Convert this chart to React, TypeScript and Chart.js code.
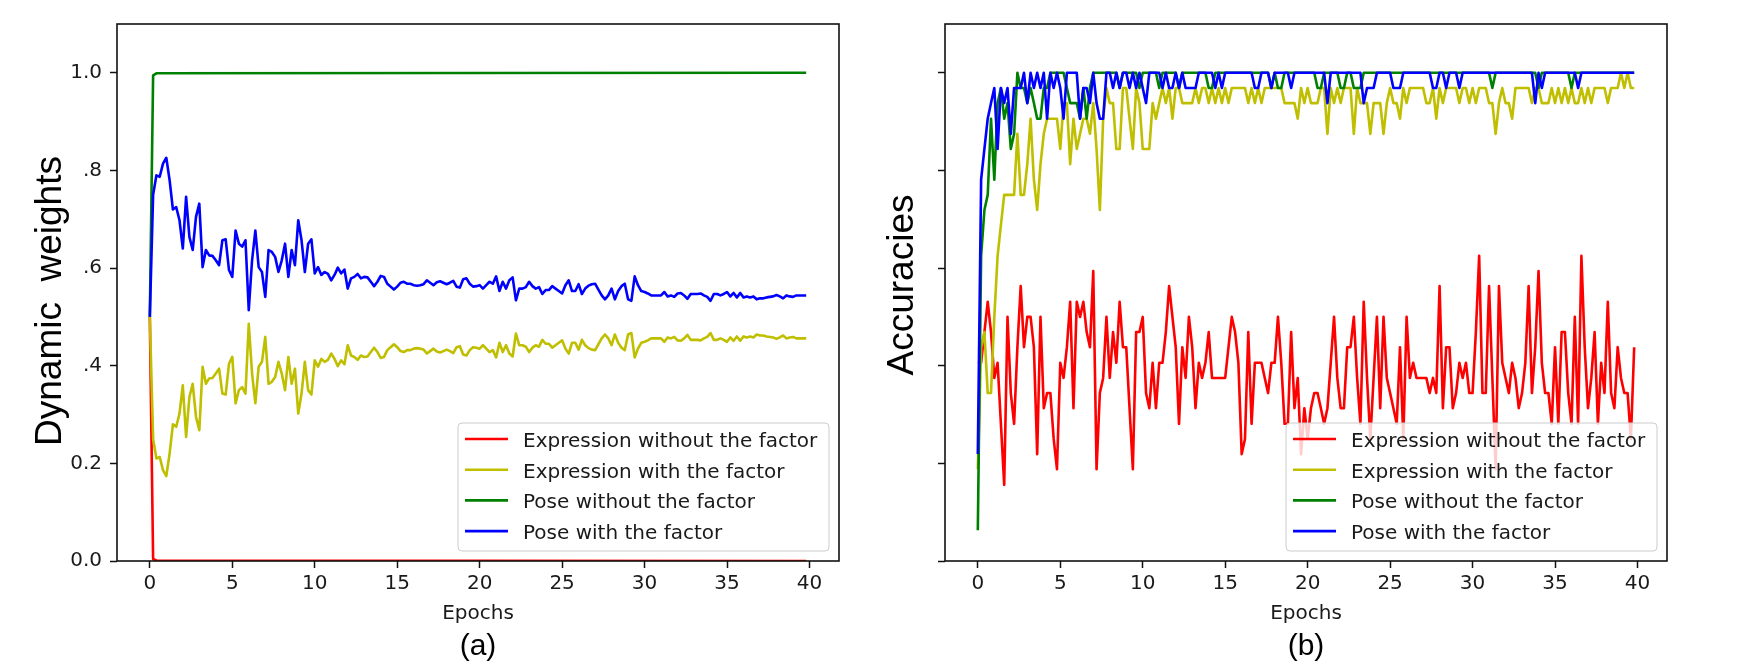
import React, { useEffect, useRef } from "react";
import { Chart, registerables } from "chart.js";

Chart.register(...registerables);

// ---------------- data ----------------
const EPOCHS = [
  0, 0.2, 0.4, 0.6, 0.8, 1, 1.2, 1.4, 1.6, 1.8,
  2, 2.2, 2.4, 2.6, 2.8, 3, 3.2, 3.4, 3.6, 3.8,
  4, 4.2, 4.4, 4.6, 4.8, 5, 5.2, 5.4, 5.6, 5.8,
  6, 6.2, 6.4, 6.6, 6.8, 7, 7.2, 7.4, 7.6, 7.8,
  8, 8.2, 8.4, 8.6, 8.8, 9, 9.2, 9.4, 9.6, 9.8,
  10, 10.2, 10.4, 10.6, 10.8, 11, 11.2, 11.4, 11.6, 11.8,
  12, 12.2, 12.4, 12.6, 12.8, 13, 13.2, 13.4, 13.6, 13.8,
  14, 14.2, 14.4, 14.6, 14.8, 15, 15.2, 15.4, 15.6, 15.8,
  16, 16.2, 16.4, 16.6, 16.8, 17, 17.2, 17.4, 17.6, 17.8,
  18, 18.2, 18.4, 18.6, 18.8, 19, 19.2, 19.4, 19.6, 19.8,
  20, 20.2, 20.4, 20.6, 20.8, 21, 21.2, 21.4, 21.6, 21.8,
  22, 22.2, 22.4, 22.6, 22.8, 23, 23.2, 23.4, 23.6, 23.8,
  24, 24.2, 24.4, 24.6, 24.8, 25, 25.2, 25.4, 25.6, 25.8,
  26, 26.2, 26.4, 26.6, 26.8, 27, 27.2, 27.4, 27.6, 27.8,
  28, 28.2, 28.4, 28.6, 28.8, 29, 29.2, 29.4, 29.6, 29.8,
  30, 30.2, 30.4, 30.6, 30.8, 31, 31.2, 31.4, 31.6, 31.8,
  32, 32.2, 32.4, 32.6, 32.8, 33, 33.2, 33.4, 33.6, 33.8,
  34, 34.2, 34.4, 34.6, 34.8, 35, 35.2, 35.4, 35.6, 35.8,
  36, 36.2, 36.4, 36.6, 36.8, 37, 37.2, 37.4, 37.6, 37.8,
  38, 38.2, 38.4, 38.6, 38.8, 39, 39.2, 39.4, 39.6, 39.8,
];

const SERIES_NAMES = [
  "Expression without the factor",
  "Expression with the factor",
  "Pose without the factor",
  "Pose with the factor",
];

const X_TICKS = [0, 5, 10, 15, 20, 25, 30, 35, 40];
const Y_TICKS = [0, 0.2, 0.4, 0.6, 0.8, 1.0];
const Y_TICK_LABELS_A = ["0.0", "0.2", ".4", ".6", ".8", "1.0"];
const Y_TICK_LABELS_B = ["", "", "", "", "", ""];

// (a) Dynamic weights
const WEIGHT_EXPR_WITHOUT = [
  { x: 0, y: 0.5 }, { x: 0.2, y: 0.004 }, { x: 0.4, y: 0.001 }, { x: 39.8, y: 0 },
];
const WEIGHT_POSE_WITHOUT = [
  { x: 0, y: 0.5 }, { x: 0.2, y: 0.995 }, { x: 0.4, y: 0.999 }, { x: 39.8, y: 1 },
];
const WEIGHT_EXPR_WITH = [
  0.5, 0.25, 0.21, 0.213, 0.186, 0.174, 0.22, 0.28, 0.275, 0.302,
  0.36, 0.254, 0.336, 0.363, 0.295, 0.268, 0.398, 0.363, 0.374, 0.375,
  0.384, 0.394, 0.343, 0.341, 0.404, 0.418, 0.323, 0.35, 0.356, 0.343,
  0.486, 0.384, 0.323, 0.398, 0.408, 0.459, 0.363, 0.367, 0.377, 0.408,
  0.384, 0.35, 0.418, 0.363, 0.394, 0.302, 0.343, 0.408, 0.35, 0.341,
  0.411, 0.398, 0.414, 0.408, 0.412, 0.425, 0.414, 0.399, 0.411, 0.403,
  0.442, 0.421, 0.418, 0.412, 0.421, 0.418, 0.419, 0.428, 0.437, 0.428,
  0.416, 0.418, 0.432, 0.438, 0.444, 0.438, 0.43, 0.428, 0.432, 0.432,
  0.435, 0.436, 0.435, 0.433, 0.425, 0.43, 0.435, 0.429, 0.427, 0.43,
  0.433, 0.43, 0.426, 0.438, 0.44, 0.423, 0.421, 0.432, 0.438, 0.437,
  0.435, 0.442, 0.435, 0.428, 0.432, 0.417, 0.447, 0.428, 0.442, 0.425,
  0.419, 0.466, 0.442, 0.442, 0.439, 0.428, 0.437, 0.442, 0.439, 0.453,
  0.445, 0.445, 0.437, 0.442, 0.447, 0.452, 0.435, 0.425, 0.447, 0.447,
  0.433, 0.453, 0.442, 0.436, 0.433, 0.432, 0.444, 0.456, 0.464, 0.456,
  0.442, 0.464, 0.447, 0.437, 0.432, 0.464, 0.467, 0.417, 0.435, 0.447,
  0.449, 0.452, 0.456, 0.456, 0.456, 0.456, 0.449, 0.458, 0.456, 0.459,
  0.452, 0.451, 0.456, 0.463, 0.453, 0.453, 0.453, 0.452, 0.456, 0.459,
  0.467, 0.453, 0.453, 0.456, 0.453, 0.449, 0.458, 0.451, 0.46, 0.451,
  0.46, 0.458, 0.46, 0.458, 0.464, 0.462, 0.462, 0.46, 0.459, 0.458,
  0.455, 0.458, 0.462, 0.456, 0.458, 0.459, 0.456, 0.456, 0.456, 0.456,
];
const WEIGHT_POSE_WITH = [
  0.5, 0.75, 0.79, 0.787, 0.814, 0.826, 0.78, 0.72, 0.725, 0.698,
  0.64, 0.746, 0.664, 0.637, 0.705, 0.732, 0.602, 0.637, 0.626, 0.625,
  0.616, 0.606, 0.657, 0.659, 0.596, 0.582, 0.677, 0.65, 0.644, 0.657,
  0.514, 0.616, 0.677, 0.602, 0.592, 0.541, 0.637, 0.633, 0.623, 0.592,
  0.616, 0.65, 0.582, 0.637, 0.606, 0.698, 0.657, 0.592, 0.65, 0.659,
  0.589, 0.602, 0.586, 0.592, 0.588, 0.575, 0.586, 0.601, 0.589, 0.597,
  0.558, 0.579, 0.582, 0.588, 0.579, 0.582, 0.581, 0.572, 0.563, 0.572,
  0.584, 0.582, 0.568, 0.562, 0.556, 0.562, 0.57, 0.572, 0.568, 0.568,
  0.565, 0.564, 0.565, 0.567, 0.575, 0.57, 0.565, 0.571, 0.573, 0.57,
  0.567, 0.57, 0.574, 0.562, 0.56, 0.577, 0.579, 0.568, 0.562, 0.563,
  0.565, 0.558, 0.565, 0.572, 0.568, 0.583, 0.553, 0.572, 0.558, 0.575,
  0.581, 0.534, 0.558, 0.558, 0.561, 0.572, 0.563, 0.558, 0.561, 0.547,
  0.555, 0.555, 0.563, 0.558, 0.553, 0.548, 0.565, 0.575, 0.553, 0.553,
  0.567, 0.547, 0.558, 0.564, 0.567, 0.568, 0.556, 0.544, 0.536, 0.544,
  0.558, 0.536, 0.553, 0.563, 0.568, 0.536, 0.533, 0.583, 0.565, 0.553,
  0.551, 0.548, 0.544, 0.544, 0.544, 0.544, 0.551, 0.542, 0.544, 0.541,
  0.548, 0.549, 0.544, 0.537, 0.547, 0.547, 0.547, 0.548, 0.544, 0.541,
  0.533, 0.547, 0.547, 0.544, 0.547, 0.551, 0.542, 0.549, 0.54, 0.549,
  0.54, 0.542, 0.54, 0.542, 0.536, 0.538, 0.538, 0.54, 0.541, 0.542,
  0.545, 0.542, 0.538, 0.544, 0.542, 0.541, 0.544, 0.544, 0.544, 0.544,
];

// (b) Accuracies
const ACC_EXPR_WITHOUT = [
  0.406, 0.406, 0.469, 0.531, 0.469, 0.375, 0.406, 0.281, 0.156, 0.5,
  0.344, 0.281, 0.438, 0.563, 0.438, 0.5, 0.5, 0.438, 0.219, 0.5,
  0.313, 0.344, 0.344, 0.25, 0.188, 0.406, 0.375, 0.438, 0.531, 0.313,
  0.531, 0.5, 0.531, 0.469, 0.438, 0.594, 0.188, 0.344, 0.375, 0.5,
  0.375, 0.469, 0.406, 0.531, 0.438, 0.438, 0.313, 0.188, 0.469, 0.469,
  0.5, 0.344, 0.313, 0.406, 0.313, 0.406, 0.406, 0.469, 0.563, 0.5,
  0.438, 0.281, 0.438, 0.375, 0.5, 0.438, 0.313, 0.406, 0.375, 0.406,
  0.469, 0.375, 0.375, 0.375, 0.375, 0.375, 0.438, 0.5, 0.469, 0.406,
  0.219, 0.25, 0.469, 0.281, 0.406, 0.406, 0.406, 0.375, 0.344, 0.406,
  0.406, 0.5, 0.406, 0.281, 0.281, 0.469, 0.313, 0.375, 0.219, 0.313,
  0.25, 0.313, 0.344, 0.344, 0.313, 0.281, 0.313, 0.406, 0.5, 0.375,
  0.313, 0.313, 0.438, 0.438, 0.5, 0.375, 0.281, 0.531, 0.375, 0.25,
  0.375, 0.5, 0.313, 0.5, 0.375, 0.344, 0.313, 0.281, 0.438, 0.25,
  0.5, 0.375, 0.406, 0.375, 0.375, 0.375, 0.375, 0.344, 0.375, 0.344,
  0.563, 0.313, 0.438, 0.438, 0.313, 0.344, 0.406, 0.375, 0.406, 0.344,
  0.344, 0.469, 0.625, 0.344, 0.344, 0.563, 0.375, 0.188, 0.563, 0.406,
  0.375, 0.344, 0.406, 0.375, 0.313, 0.344, 0.406, 0.563, 0.344, 0.438,
  0.594, 0.406, 0.344, 0.344, 0.281, 0.438, 0.281, 0.469, 0.469, 0.344,
  0.281, 0.5, 0.281, 0.625, 0.438, 0.313, 0.375, 0.469, 0.281, 0.406,
  0.344, 0.531, 0.344, 0.313, 0.438, 0.375, 0.344, 0.344, 0.25, 0.438,
];
const ACC_EXPR_WITH = [
  0.188, 0.438, 0.469, 0.344, 0.344, 0.5, 0.625, 0.688, 0.75, 0.75,
  0.75, 0.75, 0.875, 0.75, 0.75, 0.813, 0.906, 0.781, 0.719, 0.813,
  0.875, 0.906, 0.906, 0.906, 0.906, 0.844, 0.938, 0.938, 0.813, 0.906,
  0.844, 0.875, 0.906, 0.906, 0.875, 0.938, 0.844, 0.719, 0.906, 0.969,
  0.938, 0.938, 0.844, 0.844, 0.969, 0.969, 0.906, 0.844, 0.969, 0.938,
  0.844, 0.844, 0.844, 0.938, 0.906, 0.938, 0.969, 0.938, 0.969, 0.906,
  0.969, 0.969, 0.938, 0.938, 0.938, 0.938, 0.969, 0.938, 0.969, 0.969,
  0.938, 0.969, 0.938, 0.969, 0.938, 0.969, 0.938, 0.969, 0.969, 0.969,
  0.969, 0.969, 0.938, 0.969, 0.938, 0.969, 0.938, 0.969, 0.969, 0.969,
  0.969, 0.969, 0.969, 0.938, 0.938, 0.938, 0.938, 0.906, 0.969, 0.938,
  0.969, 0.938, 0.938, 0.938, 0.969, 0.969, 0.875, 0.969, 0.938, 0.969,
  0.938, 0.969, 0.969, 0.969, 0.875, 0.969, 0.938, 0.938, 0.938, 0.875,
  0.938, 0.938, 0.938, 0.875, 0.938, 0.969, 0.938, 0.938, 0.906, 0.969,
  0.938, 0.969, 0.969, 0.969, 0.969, 0.969, 0.938, 0.938, 0.969, 0.906,
  0.969, 0.938, 0.969, 0.969, 0.969, 0.969, 0.938, 0.969, 0.969, 0.938,
  0.969, 0.938, 0.969, 0.969, 0.969, 0.938, 0.938, 0.875, 0.938, 0.969,
  0.938, 0.938, 0.906, 0.969, 0.969, 0.969, 0.969, 0.969, 0.938, 0.969,
  0.969, 0.938, 0.938, 0.938, 0.969, 0.938, 0.969, 0.938, 0.969, 0.938,
  0.969, 0.938, 0.938, 0.969, 0.938, 0.969, 0.938, 0.969, 0.969, 0.969,
  0.969, 0.938, 0.969, 0.969, 0.969, 1, 0.969, 1, 0.969, 0.969,
];
const ACC_POSE_WITHOUT = [
  0.063, 0.625, 0.719, 0.75, 0.906, 0.781, 0.938, 0.969, 0.906, 0.938,
  0.844, 0.875, 1, 0.969, 0.969, 0.938, 0.969, 0.938, 0.906, 0.906,
  0.969, 0.969, 1, 1, 1, 1, 1, 0.969, 0.938, 0.938,
  0.938, 0.906, 0.969, 0.906, 0.969, 1, 1, 1, 1, 1,
  1, 1, 1, 0.969, 1, 1, 1, 1, 1, 0.969,
  1, 1, 1, 1, 1, 0.969, 1, 1, 1, 1,
  1, 0.969, 1, 1, 1, 1, 1, 1, 1, 1,
  0.969, 0.969, 1, 1, 1, 1, 1, 1, 1, 1,
  1, 1, 1, 1, 1, 1, 1, 1, 1, 0.969,
  1, 0.969, 0.969, 1, 1, 1, 1, 1, 1, 1,
  1, 1, 1, 0.969, 0.969, 1, 1, 1, 1, 1,
  0.969, 0.969, 1, 1, 0.969, 0.969, 0.969, 1, 1, 1,
  1, 1, 1, 1, 1, 1, 1, 1, 1, 1,
  1, 1, 1, 1, 1, 1, 1, 1, 1, 1,
  1, 1, 1, 1, 1, 1, 1, 1, 1, 1,
  1, 1, 1, 1, 1, 1, 0.969, 1, 1, 1,
  1, 1, 1, 1, 1, 1, 1, 1, 1, 1,
  0.969, 1, 1, 1, 1, 1, 1, 1, 1, 1,
  0.969, 1, 1, 1, 1, 1, 1, 1, 1, 1,
  1, 1, 1, 1, 1, 1, 1, 1, 1, 1,
];
const ACC_POSE_WITH = [
  0.219, 0.781, 0.844, 0.906, 0.938, 0.969, 0.844, 0.969, 0.938, 0.969,
  0.875, 0.969, 0.969, 0.969, 1, 0.938, 1, 0.969, 1, 0.969,
  1, 0.906, 1, 0.969, 1, 0.969, 0.906, 1, 1, 1,
  1, 0.906, 0.969, 0.969, 0.938, 1, 0.938, 0.906, 0.906, 1,
  1, 0.969, 1, 0.969, 1, 1, 0.969, 1, 0.969, 1,
  0.969, 0.938, 1, 1, 1, 1, 0.969, 1, 0.969, 0.969,
  1, 0.969, 1, 0.969, 0.969, 0.969, 0.969, 1, 1, 1,
  1, 1, 0.969, 1, 0.969, 1, 1, 1, 1, 1,
  1, 1, 1, 1, 0.969, 0.969, 1, 1, 1, 0.969,
  1, 1, 1, 1, 1, 0.969, 1, 1, 1, 1,
  1, 1, 1, 1, 1, 1, 0.938, 1, 1, 1,
  1, 1, 1, 1, 1, 1, 1, 0.938, 0.969, 0.969,
  0.969, 1, 1, 1, 1, 1, 0.969, 0.969, 0.969, 1,
  1, 1, 1, 1, 1, 1, 1, 1, 0.969, 0.969,
  1, 1, 0.969, 1, 1, 1, 0.969, 1, 1, 1,
  1, 1, 1, 1, 1, 1, 1, 1, 1, 1,
  1, 1, 1, 1, 1, 1, 1, 1, 1, 0.938,
  1, 0.969, 1, 1, 1, 1, 1, 1, 1, 1,
  1, 1, 0.969, 1, 1, 1, 1, 1, 1, 1,
  1, 1, 1, 1, 1, 1, 1, 1, 1, 1,
];

// ---------------- styling ----------------
const COLORS = ["#ff0000", "#bfbf00", "#008000", "#0000ff"];
const TICK_FONT = { family: "DejaVu Sans", size: 20 };
const W = 1762;
const H = 672;

type PanelStyle = {
  ylabel: string;
  ylabelX: number;
  ylabelY: number;
  panel: string;
};

function roundRectPath(ctx: CanvasRenderingContext2D, x: number, y: number, w: number, h: number, r: number) {
  ctx.beginPath();
  ctx.moveTo(x + r, y);
  ctx.lineTo(x + w - r, y);
  ctx.arcTo(x + w, y, x + w, y + r, r);
  ctx.lineTo(x + w, y + h - r);
  ctx.arcTo(x + w, y + h, x + w - r, y + h, r);
  ctx.lineTo(x + r, y + h);
  ctx.arcTo(x, y + h, x, y + h - r, r);
  ctx.lineTo(x, y + r);
  ctx.arcTo(x, y, x + r, y, r);
  ctx.closePath();
}

function decorPlugin(p: PanelStyle) {
  return {
    id: "decor",
    afterDraw(chart: any) {
      const { ctx, chartArea: a } = chart;
      ctx.save();
      // spines
      ctx.strokeStyle = "#111";
      ctx.lineWidth = 1.6;
      ctx.strokeRect(a.left, a.top, a.right - a.left, a.bottom - a.top);

      // legend (matplotlib style, lower right)
      const lw = 371;
      const lh = 128;
      const lx = a.right - 10 - lw;
      const ly = a.bottom - 10 - lh;
      roundRectPath(ctx, lx, ly, lw, lh, 4);
      ctx.fillStyle = "rgba(255,255,255,0.8)";
      ctx.fill();
      ctx.strokeStyle = "#cccccc";
      ctx.lineWidth = 1;
      ctx.stroke();
      ctx.font = '20px "DejaVu Sans"';
      ctx.textAlign = "left";
      ctx.textBaseline = "alphabetic";
      SERIES_NAMES.forEach((name, i) => {
        const y = ly + 16 + i * 30.7;
        ctx.strokeStyle = COLORS[i];
        ctx.lineWidth = 2.6;
        ctx.beginPath();
        ctx.moveTo(lx + 7, y);
        ctx.lineTo(lx + 50, y);
        ctx.stroke();
        ctx.fillStyle = "#1a1a1a";
        ctx.fillText(name, lx + 65, y + 8);
      });

      // x title
      const cx = (a.left + a.right) / 2;
      ctx.textAlign = "center";
      ctx.fillStyle = "#1a1a1a";
      ctx.fillText("Epochs", cx, 619);
      // panel label
      ctx.fillStyle = "#000";
      ctx.font = '30px "Liberation Sans"';
      ctx.fillText(p.panel, cx, 655);
      // y title
      ctx.save();
      ctx.translate(p.ylabelX, p.ylabelY);
      ctx.rotate(-Math.PI / 2);
      ctx.font = '37px "Liberation Sans"';
      ctx.textAlign = "center";
      ctx.fillText(p.ylabel, 0, 0);
      ctx.restore();
      ctx.restore();
    },
  };
}

function makeConfig(
  series: any[],
  yLabels: string[],
  yAxisWidth: number,
  padRight: number,
  style: PanelStyle
): any {
  const datasets = series.map((data, i) => ({
    label: SERIES_NAMES[i],
    data,
    borderColor: COLORS[i],
    backgroundColor: COLORS[i],
    borderWidth: 2.6,
    pointRadius: 0,
    tension: 0,
    fill: false,
    borderJoinStyle: "round",
    order: 4 - i,
  }));
  return {
    type: "line",
    data: { labels: EPOCHS, datasets },
    options: {
      animation: false,
      responsive: false,
      devicePixelRatio: 1,
      layout: { padding: { top: 24, right: padRight, left: 0, bottom: 0 } },
      plugins: { legend: { display: false }, tooltip: { enabled: false } },
      scales: {
        x: {
          type: "linear",
          min: -1.99,
          max: 41.79,
          afterBuildTicks: (s: any) => {
            s.ticks = X_TICKS.map((v) => ({ value: v }));
          },
          afterFit: (s: any) => {
            s.height = 111;
          },
          grid: {
            display: true,
            drawOnChartArea: false,
            drawTicks: true,
            tickLength: 7,
            tickWidth: 1.5,
            tickColor: "#111",
          },
          border: { display: false },
          ticks: {
            font: TICK_FONT,
            color: "#1a1a1a",
            padding: 4,
            maxRotation: 0,
            autoSkip: false,
            callback: (v: number) => String(v),
          },
        },
        y: {
          type: "linear",
          min: 0,
          max: 1.1,
          afterBuildTicks: (s: any) => {
            s.ticks = Y_TICKS.map((v) => ({ value: v }));
          },
          afterFit: (s: any) => {
            s.width = yAxisWidth;
          },
          grid: {
            display: true,
            drawOnChartArea: false,
            drawTicks: true,
            tickLength: 7,
            tickWidth: 1.5,
            tickColor: "#111",
          },
          border: { display: false },
          ticks: {
            font: TICK_FONT,
            color: "#1a1a1a",
            padding: 8,
            autoSkip: false,
            callback: (v: number) => {
              const idx = Y_TICKS.findIndex((t) => Math.abs(t - v) < 1e-6);
              return idx >= 0 ? yLabels[idx] : "";
            },
          },
        },
      },
    },
    plugins: [decorPlugin(style)],
  };
}

export default function App() {
  const refA = useRef<HTMLCanvasElement>(null);
  const refB = useRef<HTMLCanvasElement>(null);

  useEffect(() => {
    document.body.style.margin = "0";
    const chartA = new Chart(
      refA.current as HTMLCanvasElement,
      makeConfig(
        [WEIGHT_EXPR_WITHOUT, WEIGHT_EXPR_WITH, WEIGHT_POSE_WITHOUT, WEIGHT_POSE_WITH],
        Y_TICK_LABELS_A,
        117,
        41,
        { ylabel: "Dynamic  weights", ylabelX: 61, ylabelY: 301, panel: "(a)" }
      )
    );
    const chartB = new Chart(
      refB.current as HTMLCanvasElement,
      makeConfig(
        [ACC_EXPR_WITHOUT, ACC_EXPR_WITH, ACC_POSE_WITHOUT, ACC_POSE_WITH],
        Y_TICK_LABELS_B,
        65,
        95,
        { ylabel: "Accuracies", ylabelX: 33, ylabelY: 285, panel: "(b)" }
      )
    );
    return () => {
      chartA.destroy();
      chartB.destroy();
    };
  }, []);

  return (
    <div style={{ position: "absolute", left: 0, top: 0, width: W, height: H, background: "#fff" }}>
      <canvas
        ref={refA}
        width={880}
        height={H}
        style={{ position: "absolute", left: 0, top: 0, width: 880, height: H }}
      />
      <canvas
        ref={refB}
        width={882}
        height={H}
        style={{ position: "absolute", left: 880, top: 0, width: 882, height: H }}
      />
    </div>
  );
}
